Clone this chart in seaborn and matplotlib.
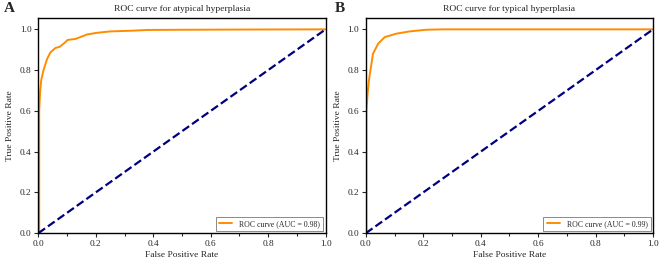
import numpy as np
import pandas as pd
import seaborn as sns
import matplotlib
matplotlib.use("Agg")
import matplotlib.pyplot as plt

# ROC points
fpr_atyp = [0.0, 0.003, 0.003, 0.006, 0.01, 0.018, 0.03, 0.042, 0.059, 0.075, 0.082, 0.094,
            0.102, 0.129, 0.146, 0.17, 0.204, 0.251, 0.32, 0.379, 0.5, 0.7, 1.0]
tpr_atyp = [0.0, 0.0, 0.6, 0.69, 0.75, 0.80, 0.853, 0.887, 0.908, 0.915, 0.923, 0.937,
            0.948, 0.953, 0.962, 0.975, 0.983, 0.99, 0.993, 0.997, 0.998, 0.999, 1.0]

fpr_typ = [0.0, 0.002, 0.002, 0.006, 0.01, 0.014, 0.025, 0.043, 0.066, 0.107, 0.153, 0.21,
           0.27, 0.5, 0.8, 1.0]
tpr_typ = [0.0, 0.0, 0.6, 0.68, 0.74, 0.78, 0.88, 0.93, 0.962, 0.979, 0.99, 0.998,
           1.0, 1.0, 1.0, 1.0]

titles = ["ROC curve for atypical hyperplasia", "ROC curve for typical hyperplasia"]
aucs = [0.98, 0.99]
letters = ["A", "B"]

sns.set_style("ticks")
plt.rcParams['font.family'] = ['Liberation Serif', 'DejaVu Serif']

fig, axes = plt.subplots(1, 2, figsize=(6.61, 2.62), dpi=100)
fig.subplots_adjust(left=0.058, right=0.988, top=0.93, bottom=0.11, wspace=0.14)

curves = [(fpr_atyp, tpr_atyp), (fpr_typ, tpr_typ)]
for ax, (fpr, tpr), title, auc in zip(axes, curves, titles, aucs):
    df = pd.DataFrame({"fpr": fpr, "tpr": tpr})
    sns.lineplot(data=df, x="fpr", y="tpr", ax=ax, color="darkorange", lw=1.4,
                 sort=False, estimator=None, label=f"ROC curve (AUC = {auc:.2f})")
    diag = pd.DataFrame({"x": [0, 1], "y": [0, 1]})
    sns.lineplot(data=diag, x="x", y="y", ax=ax, color="navy", lw=1.6,
                 linestyle="--", dashes=(3, 1.6), legend=False)
    ax.set_xlim(0, 1)
    ax.set_ylim(0, 1.054)
    ax.set_xticks(np.arange(0, 1.01, 0.2))
    ax.set_xticks(np.arange(0, 1.01, 0.1), minor=True)
    ax.set_yticks(np.arange(0, 1.01, 0.2))
    ax.tick_params(labelsize=6.7, length=3, width=0.8, pad=2)
    ax.tick_params(which="minor", length=2.5, width=0.8)
    ax.set_xlabel("False Positive Rate", fontsize=6.8, labelpad=2)
    ax.set_ylabel("True Positive Rate", fontsize=6.8, labelpad=4)
    ax.set_title(title, fontsize=6.8, pad=5)
    for s in ax.spines.values():
        s.set_linewidth(1.0)
        s.set_color("black")
    leg = ax.legend(loc="lower right", fontsize=5.6, frameon=True, fancybox=False,
                    handlelength=1.7, borderpad=0.4, handletextpad=0.9,
                    borderaxespad=0.3)
    leg.get_frame().set_edgecolor("#555555")
    leg.get_frame().set_linewidth(0.6)

fig.text(0.006, 0.955, letters[0], fontsize=11, fontweight="bold")
fig.text(0.507, 0.955, letters[1], fontsize=11, fontweight="bold")

fig.savefig("out.png", dpi=100)
